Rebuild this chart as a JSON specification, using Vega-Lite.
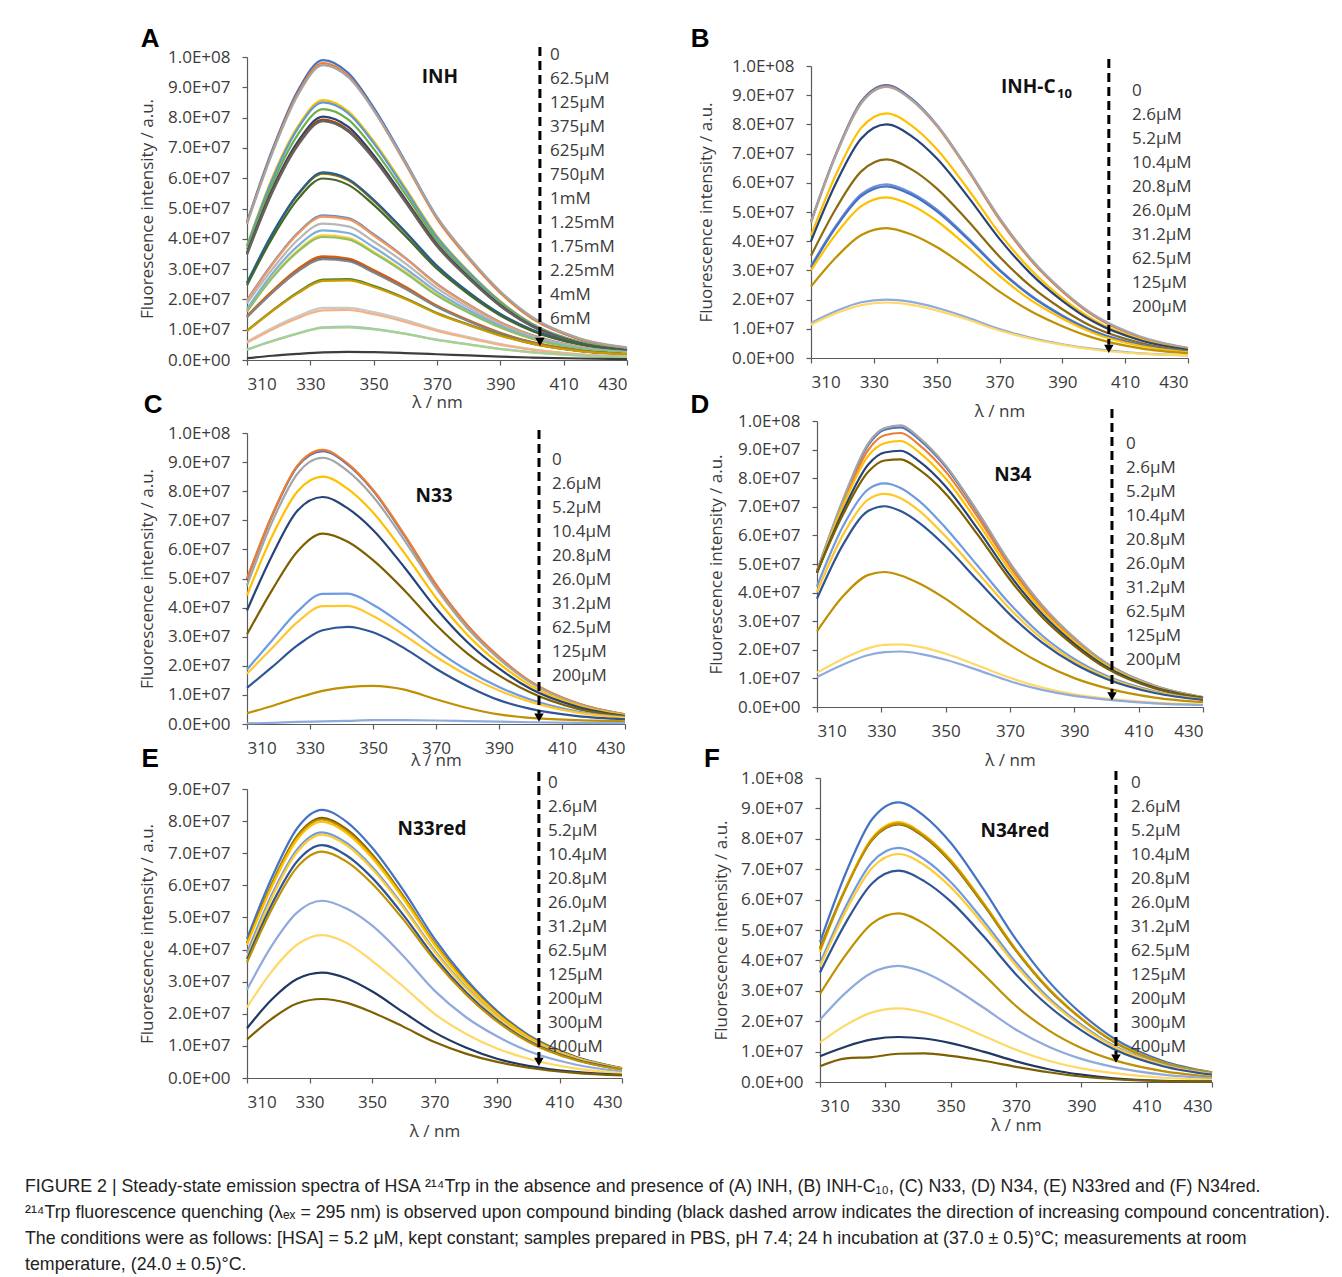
{
"$schema": "https://vega.github.io/schema/vega-lite/v6.json",
"padding": {"left": 25, "top": 25, "right": 5, "bottom": 5},
"background": "white",
"config": {
  "view": {"stroke": null},
  "axis": {"grid": false, "labelOverlap": false, "labelFont": "Open Sans", "labelFontSize": 17, "labelColor": "#3b3b3b", "titleFont": "Open Sans", "titleFontSize": 17, "titleFontWeight": "normal", "titleColor": "#3b3b3b", "domainColor": "#5a5a5a", "tickColor": "#5a5a5a", "tickSize": 5, "domainWidth": 1.2, "tickWidth": 1.2},
  "axisY": {"labelPadding": 12},
  "axisX": {"labelPadding": 11}
},
"datasets": {
"A": [
{"nm":310,"a1":4.56,"a2":4.52,"a3":4.49,"a4":3.78,"a5":3.75,"a6":3.65,"a7":3.54,"a8":3.50,"a9":3.48,"a10":2.53,"a11":2.55,"a12":2.47,"a13":1.98,"a14":1.96,"a15":1.87,"a16":1.62,"a17":1.68,"a18":1.60,"a19":1.43,"a20":1.45,"a21":1.41,"a22":0.97,"a23":0.95,"a24":0.60,"a25":0.57,"a26":0.35,"a27":0.34,"a28":0.06},
{"nm":318,"a1":6.94,"a2":6.87,"a3":6.83,"a4":6.02,"a5":5.96,"a6":5.81,"a7":5.64,"a8":5.57,"a9":5.53,"a10":4.14,"a11":4.17,"a12":4.03,"a13":3.18,"a14":3.15,"a15":3.00,"a16":2.74,"a17":2.85,"a18":2.71,"a19":2.24,"a20":2.28,"a21":2.22,"a22":1.63,"a23":1.61,"a24":1.06,"a25":1.01,"a26":0.63,"a27":0.62,"a28":0.14},
{"nm":326,"a1":8.88,"a2":8.79,"a3":8.73,"a4":7.70,"a5":7.63,"a6":7.43,"a7":7.20,"a8":7.12,"a9":7.07,"a10":5.44,"a11":5.47,"a12":5.30,"a13":4.19,"a14":4.16,"a15":3.96,"a16":3.61,"a17":3.76,"a18":3.57,"a19":2.96,"a20":3.00,"a21":2.92,"a22":2.23,"a23":2.20,"a24":1.44,"a25":1.38,"a26":0.88,"a27":0.87,"a28":0.20},
{"nm":334,"a1":9.90,"a2":9.80,"a3":9.73,"a4":8.58,"a5":8.50,"a6":8.28,"a7":8.03,"a8":7.93,"a9":7.88,"a10":6.15,"a11":6.19,"a12":5.99,"a13":4.77,"a14":4.73,"a15":4.50,"a16":4.11,"a17":4.28,"a18":4.06,"a19":3.37,"a20":3.42,"a21":3.33,"a22":2.65,"a23":2.61,"a24":1.72,"a25":1.64,"a26":1.08,"a27":1.06,"a28":0.25},
{"nm":342,"a1":9.47,"a2":9.38,"a3":9.33,"a4":8.21,"a5":8.14,"a6":7.93,"a7":7.69,"a8":7.59,"a9":7.54,"a10":5.93,"a11":5.97,"a12":5.78,"a13":4.68,"a14":4.64,"a15":4.41,"a16":4.03,"a17":4.19,"a18":3.98,"a19":3.30,"a20":3.35,"a21":3.26,"a22":2.67,"a23":2.63,"a24":1.72,"a25":1.65,"a26":1.10,"a27":1.08,"a28":0.27},
{"nm":350,"a1":8.33,"a2":8.25,"a3":8.25,"a4":7.22,"a5":7.16,"a6":6.97,"a7":6.76,"a8":6.68,"a9":6.64,"a10":5.25,"a11":5.29,"a12":5.12,"a13":4.15,"a14":4.11,"a15":3.91,"a16":3.57,"a17":3.72,"a18":3.53,"a19":2.92,"a20":2.97,"a21":2.89,"a22":2.45,"a23":2.41,"a24":1.58,"a25":1.51,"a26":1.03,"a27":1.01,"a28":0.26},
{"nm":360,"a1":6.55,"a2":6.48,"a3":6.52,"a4":5.68,"a5":5.62,"a6":5.48,"a7":5.31,"a8":5.25,"a9":5.21,"a10":4.20,"a11":4.23,"a12":4.09,"a13":3.37,"a14":3.35,"a15":3.19,"a16":2.91,"a17":3.02,"a18":2.87,"a19":2.38,"a20":2.42,"a21":2.35,"a22":2.04,"a23":2.01,"a24":1.32,"a25":1.26,"a26":0.87,"a27":0.86,"a28":0.23},
{"nm":370,"a1":4.71,"a2":4.66,"a3":4.72,"a4":4.09,"a5":4.05,"a6":3.94,"a7":3.82,"a8":3.78,"a9":3.75,"a10":3.09,"a11":3.11,"a12":3.01,"a13":2.51,"a14":2.49,"a15":2.37,"a16":2.16,"a17":2.25,"a18":2.13,"a19":1.77,"a20":1.79,"a21":1.75,"a22":1.55,"a23":1.53,"a24":1.00,"a25":0.96,"a26":0.67,"a27":0.66,"a28":0.19},
{"nm":380,"a1":3.37,"a2":3.34,"a3":3.40,"a4":2.92,"a5":2.90,"a6":2.82,"a7":2.74,"a8":2.70,"a9":2.69,"a10":2.22,"a11":2.24,"a12":2.17,"a13":1.83,"a14":1.82,"a15":1.73,"a16":1.58,"a17":1.64,"a18":1.56,"a19":1.29,"a20":1.31,"a21":1.28,"a22":1.17,"a23":1.15,"a24":0.76,"a25":0.72,"a26":0.52,"a27":0.51,"a28":0.15},
{"nm":390,"a1":2.23,"a2":2.21,"a3":2.27,"a4":1.94,"a5":1.92,"a6":1.87,"a7":1.81,"a8":1.79,"a9":1.78,"a10":1.51,"a11":1.52,"a12":1.47,"a13":1.25,"a14":1.24,"a15":1.18,"a16":1.08,"a17":1.12,"a18":1.07,"a19":0.88,"a20":0.90,"a21":0.87,"a22":0.82,"a23":0.80,"a24":0.53,"a25":0.50,"a26":0.37,"a27":0.36,"a28":0.11},
{"nm":400,"a1":1.39,"a2":1.37,"a3":1.42,"a4":1.20,"a5":1.19,"a6":1.16,"a7":1.13,"a8":1.11,"a9":1.11,"a10":0.99,"a11":1.00,"a12":0.96,"a13":0.82,"a14":0.81,"a15":0.77,"a16":0.71,"a17":0.73,"a18":0.70,"a19":0.58,"a20":0.59,"a21":0.57,"a22":0.54,"a23":0.54,"a24":0.35,"a25":0.34,"a26":0.26,"a27":0.25,"a28":0.08},
{"nm":415,"a1":0.69,"a2":0.69,"a3":0.72,"a4":0.60,"a5":0.60,"a6":0.58,"a7":0.56,"a8":0.56,"a9":0.55,"a10":0.53,"a11":0.53,"a12":0.51,"a13":0.43,"a14":0.43,"a15":0.41,"a16":0.37,"a17":0.39,"a18":0.37,"a19":0.31,"a20":0.31,"a21":0.30,"a22":0.30,"a23":0.29,"a24":0.19,"a25":0.18,"a26":0.15,"a27":0.14,"a28":0.05},
{"nm":430,"a1":0.40,"a2":0.39,"a3":0.42,"a4":0.34,"a5":0.34,"a6":0.33,"a7":0.32,"a8":0.32,"a9":0.32,"a10":0.31,"a11":0.31,"a12":0.30,"a13":0.27,"a14":0.26,"a15":0.25,"a16":0.23,"a17":0.24,"a18":0.23,"a19":0.19,"a20":0.19,"a21":0.18,"a22":0.19,"a23":0.19,"a24":0.12,"a25":0.12,"a26":0.09,"a27":0.09,"a28":0.03}
],
"B": [
{"nm":310,"b1":4.68,"b2":4.65,"b3":4.64,"b4":4.19,"b5":4.00,"b6":3.50,"b7":3.15,"b8":3.10,"b9":3.00,"b10":2.45,"b11":1.20,"b12":1.14},
{"nm":318,"b1":7.01,"b2":6.98,"b3":6.96,"b4":6.29,"b5":6.00,"b6":5.13,"b7":4.54,"b8":4.49,"b9":4.25,"b10":3.45,"b11":1.61,"b12":1.53},
{"nm":326,"b1":8.79,"b2":8.74,"b3":8.72,"b4":7.88,"b5":7.52,"b6":6.39,"b7":5.61,"b8":5.54,"b9":5.20,"b10":4.21,"b11":1.91,"b12":1.81},
{"nm":334,"b1":9.35,"b2":9.30,"b3":9.28,"b4":8.38,"b5":8.00,"b6":6.80,"b7":5.95,"b8":5.88,"b9":5.50,"b10":4.45,"b11":2.00,"b12":1.90},
{"nm":342,"b1":8.88,"b2":8.84,"b3":8.84,"b4":7.96,"b5":7.60,"b6":6.46,"b7":5.65,"b8":5.59,"b9":5.23,"b10":4.23,"b11":1.92,"b12":1.82},
{"nm":350,"b1":7.99,"b2":7.95,"b3":7.98,"b4":7.16,"b5":6.84,"b6":5.81,"b7":5.09,"b8":5.03,"b9":4.70,"b10":3.80,"b11":1.72,"b12":1.63},
{"nm":360,"b1":6.45,"b2":6.42,"b3":6.46,"b4":5.78,"b5":5.52,"b6":4.69,"b7":4.11,"b8":4.06,"b9":3.80,"b10":3.07,"b11":1.38,"b12":1.31},
{"nm":370,"b1":4.77,"b2":4.74,"b3":4.80,"b4":4.27,"b5":4.08,"b6":3.47,"b7":3.03,"b8":3.00,"b9":2.81,"b10":2.27,"b11":0.99,"b12":0.94},
{"nm":380,"b1":3.37,"b2":3.35,"b3":3.40,"b4":3.02,"b5":2.88,"b6":2.45,"b7":2.14,"b8":2.12,"b9":1.98,"b10":1.60,"b11":0.69,"b12":0.66},
{"nm":390,"b1":2.29,"b2":2.28,"b3":2.32,"b4":2.05,"b5":1.96,"b6":1.67,"b7":1.46,"b8":1.44,"b9":1.35,"b10":1.09,"b11":0.47,"b12":0.45},
{"nm":400,"b1":1.45,"b2":1.44,"b3":1.48,"b4":1.30,"b5":1.24,"b6":1.05,"b7":0.92,"b8":0.91,"b9":0.85,"b10":0.69,"b11":0.31,"b12":0.29},
{"nm":415,"b1":0.70,"b2":0.70,"b3":0.73,"b4":0.63,"b5":0.60,"b6":0.51,"b7":0.45,"b8":0.44,"b9":0.41,"b10":0.33,"b11":0.16,"b12":0.15},
{"nm":430,"b1":0.33,"b2":0.33,"b3":0.35,"b4":0.29,"b5":0.28,"b6":0.24,"b7":0.21,"b8":0.21,"b9":0.19,"b10":0.16,"b11":0.09,"b12":0.09}
],
"C": [
{"nm":310,"c1":4.97,"c2":5.00,"c3":4.76,"c4":4.42,"c5":3.90,"c6":3.08,"c7":1.87,"c8":1.73,"c9":1.24,"c10":0.37,"c11":0.02},
{"nm":318,"c1":7.16,"c2":7.19,"c3":6.95,"c4":6.46,"c5":5.80,"c6":4.61,"c7":2.88,"c8":2.61,"c9":1.96,"c10":0.62,"c11":0.04},
{"nm":326,"c1":8.85,"c2":8.88,"c3":8.60,"c4":7.99,"c5":7.33,"c6":5.93,"c7":3.86,"c8":3.50,"c9":2.70,"c10":0.90,"c11":0.07},
{"nm":334,"c1":9.38,"c2":9.42,"c3":9.15,"c4":8.50,"c5":7.80,"c6":6.54,"c7":4.47,"c8":4.05,"c9":3.22,"c10":1.14,"c11":0.09},
{"nm":342,"c1":8.91,"c2":8.95,"c3":8.69,"c4":8.08,"c5":7.41,"c6":6.26,"c7":4.48,"c8":4.06,"c9":3.34,"c10":1.27,"c11":0.11},
{"nm":350,"c1":8.02,"c2":8.05,"c3":7.82,"c4":7.27,"c5":6.67,"c6":5.63,"c7":4.10,"c8":3.71,"c9":3.15,"c10":1.31,"c11":0.13},
{"nm":360,"c1":6.47,"c2":6.50,"c3":6.31,"c4":5.87,"c5":5.38,"c6":4.59,"c7":3.37,"c8":3.05,"c9":2.60,"c10":1.18,"c11":0.13},
{"nm":370,"c1":4.78,"c2":4.80,"c3":4.67,"c4":4.34,"c5":3.98,"c6":3.41,"c7":2.55,"c8":2.31,"c9":1.90,"c10":0.85,"c11":0.12},
{"nm":380,"c1":3.38,"c2":3.39,"c3":3.29,"c4":3.06,"c5":2.81,"c6":2.42,"c7":1.84,"c8":1.67,"c9":1.30,"c10":0.55,"c11":0.10},
{"nm":390,"c1":2.30,"c2":2.31,"c3":2.24,"c4":2.08,"c5":1.91,"c6":1.67,"c7":1.27,"c8":1.15,"c9":0.82,"c10":0.33,"c11":0.08},
{"nm":400,"c1":1.45,"c2":1.46,"c3":1.42,"c4":1.32,"c5":1.21,"c6":1.08,"c7":0.84,"c8":0.76,"c9":0.52,"c10":0.21,"c11":0.06},
{"nm":415,"c1":0.70,"c2":0.71,"c3":0.69,"c4":0.64,"c5":0.59,"c6":0.52,"c7":0.43,"c8":0.39,"c9":0.27,"c10":0.13,"c11":0.04},
{"nm":430,"c1":0.33,"c2":0.33,"c3":0.32,"c4":0.30,"c5":0.27,"c6":0.26,"c7":0.23,"c8":0.21,"c9":0.16,"c10":0.09,"c11":0.03}
],
"D": [
{"nm":310,"d1":4.75,"d2":4.71,"d3":4.74,"d4":4.68,"d5":4.69,"d6":4.71,"d7":4.22,"d8":4.02,"d9":3.79,"d10":2.64,"d11":1.20,"d12":1.05},
{"nm":318,"d1":7.19,"d2":7.07,"d3":7.23,"d4":7.01,"d5":6.83,"d6":6.71,"d7":6.30,"d8":6.00,"d9":5.66,"d10":3.86,"d11":1.68,"d12":1.48},
{"nm":326,"d1":9.17,"d2":9.00,"d3":9.23,"d4":8.79,"d5":8.49,"d6":8.23,"d7":7.62,"d8":7.26,"d9":6.86,"d10":4.62,"d11":2.06,"d12":1.82},
{"nm":331,"d1":9.70,"d2":9.50,"d3":9.75,"d4":9.22,"d5":8.90,"d6":8.62,"d7":7.82,"d8":7.45,"d9":7.02,"d10":4.72,"d11":2.17,"d12":1.92},
{"nm":336,"d1":9.78,"d2":9.58,"d3":9.85,"d4":9.30,"d5":8.96,"d6":8.66,"d7":7.66,"d8":7.30,"d9":6.85,"d10":4.60,"d11":2.19,"d12":1.94},
{"nm":342,"d1":9.33,"d2":9.14,"d3":9.39,"d4":8.88,"d5":8.57,"d6":8.28,"d7":7.18,"d8":6.84,"d9":6.42,"d10":4.31,"d11":2.10,"d12":1.86},
{"nm":350,"d1":8.40,"d2":8.23,"d3":8.45,"d4":7.99,"d5":7.71,"d6":7.46,"d7":6.26,"d8":5.96,"d9":5.62,"d10":3.78,"d11":1.86,"d12":1.65},
{"nm":360,"d1":6.78,"d2":6.64,"d3":6.82,"d4":6.45,"d5":6.22,"d6":6.02,"d7":4.93,"d8":4.69,"d9":4.42,"d10":2.97,"d11":1.45,"d12":1.29},
{"nm":370,"d1":5.01,"d2":4.91,"d3":5.04,"d4":4.77,"d5":4.60,"d6":4.45,"d7":3.60,"d8":3.43,"d9":3.23,"d10":2.17,"d11":1.02,"d12":0.90},
{"nm":380,"d1":3.54,"d2":3.46,"d3":3.56,"d4":3.37,"d5":3.25,"d6":3.14,"d7":2.50,"d8":2.38,"d9":2.25,"d10":1.51,"d11":0.68,"d12":0.60},
{"nm":390,"d1":2.41,"d2":2.36,"d3":2.42,"d4":2.29,"d5":2.21,"d6":2.14,"d7":1.68,"d8":1.60,"d9":1.51,"d10":1.01,"d11":0.44,"d12":0.39},
{"nm":400,"d1":1.52,"d2":1.49,"d3":1.53,"d4":1.45,"d5":1.40,"d6":1.35,"d7":1.09,"d8":1.04,"d9":0.98,"d10":0.66,"d11":0.29,"d12":0.26},
{"nm":415,"d1":0.74,"d2":0.72,"d3":0.74,"d4":0.70,"d5":0.68,"d6":0.65,"d7":0.55,"d8":0.52,"d9":0.49,"d10":0.33,"d11":0.15,"d12":0.13},
{"nm":430,"d1":0.34,"d2":0.34,"d3":0.35,"d4":0.33,"d5":0.32,"d6":0.31,"d7":0.27,"d8":0.26,"d9":0.25,"d10":0.17,"d11":0.08,"d12":0.07}
],
"E": [
{"nm":310,"e1":4.34,"e2":4.21,"e3":4.19,"e4":4.15,"e5":3.90,"e6":3.75,"e7":3.70,"e8":3.60,"e9":2.75,"e10":2.20,"e11":1.55,"e12":1.20},
{"nm":318,"e1":6.25,"e2":6.06,"e3":6.02,"e4":5.97,"e5":5.72,"e6":5.62,"e7":5.42,"e8":5.27,"e9":4.13,"e10":3.33,"e11":2.45,"e12":1.85},
{"nm":326,"e1":7.77,"e2":7.53,"e3":7.49,"e4":7.42,"e5":7.11,"e6":7.03,"e7":6.74,"e8":6.56,"e9":5.15,"e10":4.15,"e11":3.08,"e12":2.32},
{"nm":334,"e1":8.35,"e2":8.10,"e3":8.05,"e4":7.98,"e5":7.65,"e6":7.58,"e7":7.25,"e8":7.05,"e9":5.52,"e10":4.45,"e11":3.28,"e12":2.46},
{"nm":342,"e1":7.97,"e2":7.74,"e3":7.69,"e4":7.62,"e5":7.31,"e6":7.24,"e7":6.92,"e8":6.73,"e9":5.27,"e10":4.20,"e11":3.10,"e12":2.34},
{"nm":350,"e1":7.18,"e2":6.97,"e3":6.92,"e4":6.86,"e5":6.58,"e6":6.52,"e7":6.24,"e8":6.06,"e9":4.75,"e10":3.65,"e11":2.70,"e12":2.05},
{"nm":360,"e1":5.85,"e2":5.67,"e3":5.64,"e4":5.59,"e5":5.36,"e6":5.31,"e7":5.08,"e8":4.94,"e9":3.80,"e10":2.85,"e11":2.05,"e12":1.60},
{"nm":370,"e1":4.34,"e2":4.21,"e3":4.19,"e4":4.15,"e5":3.98,"e6":3.94,"e7":3.77,"e8":3.67,"e9":2.72,"e10":2.00,"e11":1.42,"e12":1.12},
{"nm":380,"e1":3.09,"e2":3.00,"e3":2.98,"e4":2.95,"e5":2.83,"e6":2.80,"e7":2.68,"e8":2.61,"e9":1.90,"e10":1.38,"e11":0.95,"e12":0.76},
{"nm":390,"e1":2.09,"e2":2.03,"e3":2.01,"e4":2.00,"e5":1.91,"e6":1.90,"e7":1.81,"e8":1.76,"e9":1.30,"e10":0.92,"e11":0.60,"e12":0.50},
{"nm":400,"e1":1.34,"e2":1.30,"e3":1.29,"e4":1.28,"e5":1.22,"e6":1.21,"e7":1.16,"e8":1.13,"e9":0.84,"e10":0.60,"e11":0.38,"e12":0.32},
{"nm":415,"e1":0.67,"e2":0.65,"e3":0.64,"e4":0.64,"e5":0.61,"e6":0.61,"e7":0.58,"e8":0.56,"e9":0.42,"e10":0.30,"e11":0.19,"e12":0.16},
{"nm":430,"e1":0.31,"e2":0.30,"e3":0.30,"e4":0.30,"e5":0.28,"e6":0.28,"e7":0.27,"e8":0.26,"e9":0.20,"e10":0.15,"e11":0.10,"e12":0.08}
],
"F": [
{"nm":310,"f1":4.60,"f2":4.40,"f3":4.28,"f4":4.35,"f5":3.90,"f6":3.80,"f7":3.60,"f8":2.90,"f9":2.05,"f10":1.30,"f11":0.85,"f12":0.52},
{"nm":318,"f1":6.90,"f2":6.41,"f3":6.41,"f4":6.38,"f5":5.80,"f6":5.64,"f7":5.26,"f8":4.20,"f9":2.95,"f10":1.88,"f11":1.17,"f12":0.78},
{"nm":326,"f1":8.65,"f2":7.97,"f3":8.04,"f4":7.99,"f5":7.24,"f6":7.05,"f7":6.54,"f8":5.22,"f9":3.60,"f10":2.29,"f11":1.40,"f12":0.82},
{"nm":334,"f1":9.20,"f2":8.47,"f3":8.55,"f4":8.50,"f5":7.70,"f6":7.50,"f7":6.95,"f8":5.55,"f9":3.82,"f10":2.42,"f11":1.48,"f12":0.93},
{"nm":342,"f1":8.74,"f2":8.05,"f3":8.12,"f4":8.08,"f5":7.32,"f6":7.13,"f7":6.60,"f8":5.20,"f9":3.60,"f10":2.28,"f11":1.43,"f12":0.94},
{"nm":350,"f1":7.87,"f2":7.24,"f3":7.31,"f4":7.27,"f5":6.58,"f6":6.41,"f7":5.94,"f8":4.55,"f9":3.15,"f10":1.98,"f11":1.28,"f12":0.86},
{"nm":360,"f1":6.35,"f2":5.84,"f3":5.90,"f4":5.87,"f5":5.31,"f6":5.18,"f7":4.80,"f8":3.55,"f9":2.45,"f10":1.52,"f11":1.00,"f12":0.70},
{"nm":370,"f1":4.69,"f2":4.32,"f3":4.36,"f4":4.34,"f5":3.93,"f6":3.83,"f7":3.54,"f8":2.50,"f9":1.72,"f10":1.06,"f11":0.68,"f12":0.50},
{"nm":380,"f1":3.31,"f2":3.05,"f3":3.08,"f4":3.06,"f5":2.77,"f6":2.70,"f7":2.50,"f8":1.70,"f9":1.16,"f10":0.70,"f11":0.42,"f12":0.32},
{"nm":390,"f1":2.25,"f2":2.08,"f3":2.09,"f4":2.08,"f5":1.89,"f6":1.84,"f7":1.70,"f8":1.12,"f9":0.76,"f10":0.45,"f11":0.24,"f12":0.18},
{"nm":400,"f1":1.43,"f2":1.31,"f3":1.33,"f4":1.32,"f5":1.19,"f6":1.16,"f7":1.08,"f8":0.72,"f9":0.49,"f10":0.29,"f11":0.12,"f12":0.09},
{"nm":415,"f1":0.69,"f2":0.64,"f3":0.64,"f4":0.64,"f5":0.58,"f6":0.56,"f7":0.52,"f8":0.36,"f9":0.24,"f10":0.14,"f11":0.04,"f12":0.03},
{"nm":430,"f1":0.32,"f2":0.30,"f3":0.30,"f4":0.30,"f5":0.27,"f6":0.26,"f7":0.24,"f8":0.17,"f9":0.12,"f10":0.07,"f11":0.02,"f12":0.01}
],
"arr": [
{"p":"A","nm":402.5,"I":10.33,"I2":0.75,"Ih":0.6},
{"p":"B","nm":404.8,"I":10.24,"I2":0.45,"Ih":0.31},
{"p":"C","nm":402.7,"I":10.1,"I2":0.35,"Ih":0.22},
{"p":"D","nm":401.7,"I":10.42,"I2":0.5,"Ih":0.37},
{"p":"E","nm":403.4,"I":9.53,"I2":0.62,"Ih":0.5},
{"p":"F","nm":400.6,"I":10.23,"I2":0.9,"Ih":0.77}
],
"ann": [
{"p":"A","k":"lab","nm":405.7,"I":10.07,"t":"0"},
{"p":"A","k":"lab","nm":405.7,"I":9.27,"t":"62.5µM"},
{"p":"A","k":"lab","nm":405.7,"I":8.48,"t":"125µM"},
{"p":"A","k":"lab","nm":405.7,"I":7.69,"t":"375µM"},
{"p":"A","k":"lab","nm":405.7,"I":6.90,"t":"625µM"},
{"p":"A","k":"lab","nm":405.7,"I":6.11,"t":"750µM"},
{"p":"A","k":"lab","nm":405.7,"I":5.31,"t":"1mM"},
{"p":"A","k":"lab","nm":405.7,"I":4.52,"t":"1.25mM"},
{"p":"A","k":"lab","nm":405.7,"I":3.73,"t":"1.75mM"},
{"p":"A","k":"lab","nm":405.7,"I":2.94,"t":"2.25mM"},
{"p":"A","k":"lab","nm":405.7,"I":2.15,"t":"4mM"},
{"p":"A","k":"lab","nm":405.7,"I":1.35,"t":"6mM"},
{"p":"A","k":"ttl","nm":370.9,"I":9.34,"t":"INH"},
{"p":"A","k":"let","nm":279.4,"I":10.6,"t":"A"},
{"p":"B","k":"lab","nm":412.2,"I":9.14,"t":"0"},
{"p":"B","k":"lab","nm":412.2,"I":8.32,"t":"2.6µM"},
{"p":"B","k":"lab","nm":412.2,"I":7.50,"t":"5.2µM"},
{"p":"B","k":"lab","nm":412.2,"I":6.68,"t":"10.4µM"},
{"p":"B","k":"lab","nm":412.2,"I":5.86,"t":"20.8µM"},
{"p":"B","k":"lab","nm":412.2,"I":5.03,"t":"26.0µM"},
{"p":"B","k":"lab","nm":412.2,"I":4.21,"t":"31.2µM"},
{"p":"B","k":"lab","nm":412.2,"I":3.39,"t":"62.5µM"},
{"p":"B","k":"lab","nm":412.2,"I":2.57,"t":"125µM"},
{"p":"B","k":"lab","nm":412.2,"I":1.75,"t":"200µM"},
{"p":"B","k":"ttlL","nm":370.5,"I":9.28,"t":"INH-C"},
{"p":"B","k":"sub","nm":388.3,"I":9.04,"t":"10"},
{"p":"B","k":"let","nm":274.7,"I":10.92,"t":"B"},
{"p":"C","k":"lab","nm":406.8,"I":9.07,"t":"0"},
{"p":"C","k":"lab","nm":406.8,"I":8.25,"t":"2.6µM"},
{"p":"C","k":"lab","nm":406.8,"I":7.42,"t":"5.2µM"},
{"p":"C","k":"lab","nm":406.8,"I":6.60,"t":"10.4µM"},
{"p":"C","k":"lab","nm":406.8,"I":5.77,"t":"20.8µM"},
{"p":"C","k":"lab","nm":406.8,"I":4.95,"t":"26.0µM"},
{"p":"C","k":"lab","nm":406.8,"I":4.12,"t":"31.2µM"},
{"p":"C","k":"lab","nm":406.8,"I":3.30,"t":"62.5µM"},
{"p":"C","k":"lab","nm":406.8,"I":2.47,"t":"125µM"},
{"p":"C","k":"lab","nm":406.8,"I":1.65,"t":"200µM"},
{"p":"C","k":"ttl","nm":369.4,"I":7.84,"t":"N33"},
{"p":"C","k":"let","nm":280.2,"I":10.96,"t":"C"},
{"p":"D","k":"lab","nm":406.1,"I":9.20,"t":"0"},
{"p":"D","k":"lab","nm":406.1,"I":8.36,"t":"2.6µM"},
{"p":"D","k":"lab","nm":406.1,"I":7.52,"t":"5.2µM"},
{"p":"D","k":"lab","nm":406.1,"I":6.68,"t":"10.4µM"},
{"p":"D","k":"lab","nm":406.1,"I":5.84,"t":"20.8µM"},
{"p":"D","k":"lab","nm":406.1,"I":5.00,"t":"26.0µM"},
{"p":"D","k":"lab","nm":406.1,"I":4.16,"t":"31.2µM"},
{"p":"D","k":"lab","nm":406.1,"I":3.32,"t":"62.5µM"},
{"p":"D","k":"lab","nm":406.1,"I":2.48,"t":"125µM"},
{"p":"D","k":"lab","nm":406.1,"I":1.64,"t":"200µM"},
{"p":"D","k":"ttl","nm":370.9,"I":8.11,"t":"N34"},
{"p":"D","k":"let","nm":273.6,"I":10.56,"t":"D"},
{"p":"E","k":"lab","nm":406.3,"I":9.19,"t":"0"},
{"p":"E","k":"lab","nm":406.3,"I":8.44,"t":"2.6µM"},
{"p":"E","k":"lab","nm":406.3,"I":7.69,"t":"5.2µM"},
{"p":"E","k":"lab","nm":406.3,"I":6.95,"t":"10.4µM"},
{"p":"E","k":"lab","nm":406.3,"I":6.20,"t":"20.8µM"},
{"p":"E","k":"lab","nm":406.3,"I":5.45,"t":"26.0µM"},
{"p":"E","k":"lab","nm":406.3,"I":4.70,"t":"31.2µM"},
{"p":"E","k":"lab","nm":406.3,"I":3.96,"t":"62.5µM"},
{"p":"E","k":"lab","nm":406.3,"I":3.21,"t":"125µM"},
{"p":"E","k":"lab","nm":406.3,"I":2.46,"t":"200µM"},
{"p":"E","k":"lab","nm":406.3,"I":1.71,"t":"300µM"},
{"p":"E","k":"lab","nm":406.3,"I":0.97,"t":"400µM"},
{"p":"E","k":"ttl","nm":369.2,"I":7.76,"t":"N33red"},
{"p":"E","k":"let","nm":279.0,"I":9.94,"t":"E"},
{"p":"F","k":"lab","nm":405.2,"I":9.84,"t":"0"},
{"p":"F","k":"lab","nm":405.2,"I":9.05,"t":"2.6µM"},
{"p":"F","k":"lab","nm":405.2,"I":8.26,"t":"5.2µM"},
{"p":"F","k":"lab","nm":405.2,"I":7.47,"t":"10.4µM"},
{"p":"F","k":"lab","nm":405.2,"I":6.68,"t":"20.8µM"},
{"p":"F","k":"lab","nm":405.2,"I":5.89,"t":"26.0µM"},
{"p":"F","k":"lab","nm":405.2,"I":5.10,"t":"31.2µM"},
{"p":"F","k":"lab","nm":405.2,"I":4.31,"t":"62.5µM"},
{"p":"F","k":"lab","nm":405.2,"I":3.52,"t":"125µM"},
{"p":"F","k":"lab","nm":405.2,"I":2.73,"t":"200µM"},
{"p":"F","k":"lab","nm":405.2,"I":1.94,"t":"300µM"},
{"p":"F","k":"lab","nm":405.2,"I":1.15,"t":"400µM"},
{"p":"F","k":"ttl","nm":369.7,"I":8.26,"t":"N34red"},
{"p":"F","k":"let","nm":276.9,"I":10.63,"t":"F"}
]
},
"title": {
  "text": [
    "FIGURE 2 | Steady-state emission spectra of HSA ²¹⁴Trp in the absence and presence of (A) INH, (B) INH-C₁₀, (C) N33, (D) N34, (E) N33red and (F) N34red.",
    "²¹⁴Trp fluorescence quenching (λₑₓ = 295 nm) is observed upon compound binding (black dashed arrow indicates the direction of increasing compound concentration).",
    "The conditions were as follows: [HSA] = 5.2 μM, kept constant; samples prepared in PBS, pH 7.4; 24 h incubation at (37.0 ± 0.5)°C; measurements at room",
    "temperature, (24.0 ± 0.5)°C."
  ],
  "orient": "bottom", "anchor": "start", "frame": "group", "dx": -222, "offset": 39,
  "font": "Liberation Sans", "fontSize": 17.8, "fontWeight": "normal", "color": "#222222", "lineHeight": 26
},
"columns": 2,
"bounds": "flush",
"spacing": {"row": 54, "column": 184},
"resolve": {"scale": {"x": "independent", "y": "independent", "color": "independent"}},
"concat": [
{
 "width": 380, "height": 303,
 "resolve": {"axis": {"x": "independent", "y": "independent"}},
 "layer": [
  {"data": {"name": "A"},
   "transform": [{"fold": ["a1","a2","a3","a4","a5","a6","a7","a8","a9","a10","a11","a12","a13","a14","a15","a16","a17","a18","a19","a20","a21","a22","a23","a24","a25","a26","a27","a28"], "as": ["curve", "I"]}],
   "mark": {"type": "line", "interpolate": "monotone", "strokeWidth": 2.2},
   "encoding": {
    "x": {"field": "nm", "type": "quantitative", "scale": {"domain": [310, 430], "nice": false}, "axis": {"labelOverlap": false, "values": [310,330,350,370,390,410,430], "title": "λ / nm", "titlePadding": 2}},
    "y": {"field": "I", "type": "quantitative", "scale": {"domain": [0, 10], "nice": false}, "axis": {"labelOverlap": false, "values": [0,1,2,3,4,5,6,7,8,9,10], "labelExpr": "datum.value == 0 ? '0.0E+00' : (datum.value >= 10 ? '1.0E+08' : format(datum.value, '.1f') + 'E+07')", "title": "Fluorescence intensity / a.u.", "titlePadding": 11}},
    "color": {"field": "curve", "type": "nominal", "scale": {"domain": ["a1","a2","a3","a4","a5","a6","a7","a8","a9","a10","a11","a12","a13","a14","a15","a16","a17","a18","a19","a20","a21","a22","a23","a24","a25","a26","a27","a28"], "range": ["#4472C4","#ED7D31","#A5A5A5","#FFC000","#5B9BD5","#70AD47","#264478","#9E480E","#636363","#997300","#255E91","#43682B","#698ED0","#F1975A","#B7B7B7","#FFCD33","#7CAFDD","#8CC168","#335AA1","#D26012","#848484","#548235","#CC9A00","#C9C9C9","#F4B183","#9DC3E6","#A9D18E","#3D3D3D"]}, "legend": null}
   }},
  {"data": {"name": "arr"}, "transform": [{"filter": "datum.p == 'A'"}], "mark": {"type": "rule", "strokeDash": [9, 5], "strokeWidth": 3, "color": "#000000"}, "encoding": {"x": {"field": "nm", "type": "quantitative", "axis": null}, "y": {"field": "I", "type": "quantitative", "axis": null}, "y2": {"field": "I2"}}},
  {"data": {"name": "arr"}, "transform": [{"filter": "datum.p == 'A'"}], "mark": {"type": "point", "shape": "triangle-down", "filled": true, "color": "#000000", "size": 90, "opacity": 1}, "encoding": {"x": {"field": "nm", "type": "quantitative", "axis": null}, "y": {"field": "Ih", "type": "quantitative", "axis": null}}},
  {"data": {"name": "ann"}, "transform": [{"filter": "datum.p == 'A' && datum.k == 'lab'"}], "mark": {"type": "text", "align": "left", "baseline": "middle", "font": "Open Sans", "fontSize": 17, "color": "#3b3b3b"}, "encoding": {"x": {"field": "nm", "type": "quantitative", "axis": null}, "y": {"field": "I", "type": "quantitative", "axis": null}, "text": {"field": "t"}}},
  {"data": {"name": "ann"}, "transform": [{"filter": "datum.p == 'A' && datum.k == 'ttl'"}], "mark": {"type": "text", "align": "center", "baseline": "middle", "font": "Open Sans", "fontSize": 19, "fontWeight": "bold", "color": "#111111"}, "encoding": {"x": {"field": "nm", "type": "quantitative", "axis": null}, "y": {"field": "I", "type": "quantitative", "axis": null}, "text": {"field": "t"}}},
  {"data": {"name": "ann"}, "transform": [{"filter": "datum.p == 'A' && datum.k == 'let'"}], "mark": {"type": "text", "align": "center", "baseline": "middle", "font": "Liberation Sans", "fontSize": 26, "fontWeight": "bold", "color": "#000000"}, "encoding": {"x": {"field": "nm", "type": "quantitative", "axis": null}, "y": {"field": "I", "type": "quantitative", "axis": null}, "text": {"field": "t"}}}
 ]
},
{
 "width": 377, "height": 301,
 "resolve": {"axis": {"x": "independent", "y": "independent"}},
 "layer": [
  {"data": {"name": "B"},
   "transform": [{"fold": ["b1","b2","b3","b4","b5","b6","b7","b8","b9","b10","b11","b12"], "as": ["curve", "I"]}],
   "mark": {"type": "line", "interpolate": "monotone", "strokeWidth": 2.2},
   "encoding": {
    "x": {"field": "nm", "type": "quantitative", "scale": {"domain": [310, 430], "nice": false}, "axis": {"labelOverlap": false, "values": [310,330,350,370,390,410,430], "title": "λ / nm", "titlePadding": 13}},
    "y": {"field": "I", "type": "quantitative", "scale": {"domain": [0, 10], "nice": false, "range": [301, 9]}, "axis": {"labelOverlap": false, "values": [0,1,2,3,4,5,6,7,8,9,10], "labelExpr": "datum.value == 0 ? '0.0E+00' : (datum.value >= 10 ? '1.0E+08' : format(datum.value, '.1f') + 'E+07')", "title": "Fluorescence intensity / a.u.", "titlePadding": 16}},
    "color": {"field": "curve", "type": "nominal", "scale": {"domain": ["b1","b2","b3","b4","b5","b6","b7","b8","b9","b10","b11","b12"], "range": ["#4472C4","#ED7D31","#A5A5A5","#FFC000","#264478","#8B6A10","#6F8FD8","#4472C4","#FFC000","#BF9000","#8FAADC","#FFD966"]}, "legend": null}
   }},
  {"data": {"name": "arr"}, "transform": [{"filter": "datum.p == 'B'"}], "mark": {"type": "rule", "strokeDash": [9, 5], "strokeWidth": 3, "color": "#000000"}, "encoding": {"x": {"field": "nm", "type": "quantitative", "axis": null}, "y": {"field": "I", "type": "quantitative", "axis": null}, "y2": {"field": "I2"}}},
  {"data": {"name": "arr"}, "transform": [{"filter": "datum.p == 'B'"}], "mark": {"type": "point", "shape": "triangle-down", "filled": true, "color": "#000000", "size": 90, "opacity": 1}, "encoding": {"x": {"field": "nm", "type": "quantitative", "axis": null}, "y": {"field": "Ih", "type": "quantitative", "axis": null}}},
  {"data": {"name": "ann"}, "transform": [{"filter": "datum.p == 'B' && datum.k == 'lab'"}], "mark": {"type": "text", "align": "left", "baseline": "middle", "font": "Open Sans", "fontSize": 17, "color": "#3b3b3b"}, "encoding": {"x": {"field": "nm", "type": "quantitative", "axis": null}, "y": {"field": "I", "type": "quantitative", "axis": null}, "text": {"field": "t"}}},
  {"data": {"name": "ann"}, "transform": [{"filter": "datum.p == 'B' && datum.k == 'ttlL'"}], "mark": {"type": "text", "align": "left", "baseline": "middle", "font": "Open Sans", "fontSize": 19, "fontWeight": "bold", "color": "#111111"}, "encoding": {"x": {"field": "nm", "type": "quantitative", "axis": null}, "y": {"field": "I", "type": "quantitative", "axis": null}, "text": {"field": "t"}}},
  {"data": {"name": "ann"}, "transform": [{"filter": "datum.p == 'B' && datum.k == 'sub'"}], "mark": {"type": "text", "align": "left", "baseline": "middle", "font": "Open Sans", "fontSize": 13, "fontWeight": "bold", "color": "#111111"}, "encoding": {"x": {"field": "nm", "type": "quantitative", "axis": null}, "y": {"field": "I", "type": "quantitative", "axis": null}, "text": {"field": "t"}}},
  {"data": {"name": "ann"}, "transform": [{"filter": "datum.p == 'B' && datum.k == 'let'"}], "mark": {"type": "text", "align": "center", "baseline": "middle", "font": "Liberation Sans", "fontSize": 26, "fontWeight": "bold", "color": "#000000"}, "encoding": {"x": {"field": "nm", "type": "quantitative", "axis": null}, "y": {"field": "I", "type": "quantitative", "axis": null}, "text": {"field": "t"}}}
 ]
},
{
 "width": 378, "height": 310,
 "resolve": {"axis": {"x": "independent", "y": "independent"}},
 "layer": [
  {"data": {"name": "C"},
   "transform": [{"fold": ["c1","c2","c3","c4","c5","c6","c7","c8","c9","c10","c11"], "as": ["curve", "I"]}],
   "mark": {"type": "line", "interpolate": "monotone", "strokeWidth": 2.2},
   "encoding": {
    "x": {"field": "nm", "type": "quantitative", "scale": {"domain": [310, 430], "nice": false}, "axis": {"labelOverlap": false, "values": [310,330,350,370,390,410,430], "title": "λ / nm", "titlePadding": -4}},
    "y": {"field": "I", "type": "quantitative", "scale": {"domain": [0, 10], "nice": false, "range": [310, 19]}, "axis": {"labelOverlap": false, "values": [0,1,2,3,4,5,6,7,8,9,10], "labelExpr": "datum.value == 0 ? '0.0E+00' : (datum.value >= 10 ? '1.0E+08' : format(datum.value, '.1f') + 'E+07')", "title": "Fluorescence intensity / a.u.", "titlePadding": 11}},
    "color": {"field": "curve", "type": "nominal", "scale": {"domain": ["c1","c2","c3","c4","c5","c6","c7","c8","c9","c10","c11"], "range": ["#4472C4","#ED7D31","#A5A5A5","#FFC000","#264478","#7F6000","#6F9BE0","#FFC72C","#2F5597","#BF9000","#8FAADC"]}, "legend": null}
   }},
  {"data": {"name": "arr"}, "transform": [{"filter": "datum.p == 'C'"}], "mark": {"type": "rule", "strokeDash": [9, 5], "strokeWidth": 3, "color": "#000000"}, "encoding": {"x": {"field": "nm", "type": "quantitative", "axis": null}, "y": {"field": "I", "type": "quantitative", "axis": null}, "y2": {"field": "I2"}}},
  {"data": {"name": "arr"}, "transform": [{"filter": "datum.p == 'C'"}], "mark": {"type": "point", "shape": "triangle-down", "filled": true, "color": "#000000", "size": 90, "opacity": 1}, "encoding": {"x": {"field": "nm", "type": "quantitative", "axis": null}, "y": {"field": "Ih", "type": "quantitative", "axis": null}}},
  {"data": {"name": "ann"}, "transform": [{"filter": "datum.p == 'C' && datum.k == 'lab'"}], "mark": {"type": "text", "align": "left", "baseline": "middle", "font": "Open Sans", "fontSize": 17, "color": "#3b3b3b"}, "encoding": {"x": {"field": "nm", "type": "quantitative", "axis": null}, "y": {"field": "I", "type": "quantitative", "axis": null}, "text": {"field": "t"}}},
  {"data": {"name": "ann"}, "transform": [{"filter": "datum.p == 'C' && datum.k == 'ttl'"}], "mark": {"type": "text", "align": "center", "baseline": "middle", "font": "Open Sans", "fontSize": 19, "fontWeight": "bold", "color": "#111111"}, "encoding": {"x": {"field": "nm", "type": "quantitative", "axis": null}, "y": {"field": "I", "type": "quantitative", "axis": null}, "text": {"field": "t"}}},
  {"data": {"name": "ann"}, "transform": [{"filter": "datum.p == 'C' && datum.k == 'let'"}], "mark": {"type": "text", "align": "center", "baseline": "middle", "font": "Liberation Sans", "fontSize": 26, "fontWeight": "bold", "color": "#000000"}, "encoding": {"x": {"field": "nm", "type": "quantitative", "axis": null}, "y": {"field": "I", "type": "quantitative", "axis": null}, "text": {"field": "t"}}}
 ]
},
{
 "width": 392, "height": 293,
 "resolve": {"axis": {"x": "independent", "y": "independent"}},
 "layer": [
  {"data": {"name": "D"},
   "transform": [{"fold": ["d1","d2","d3","d4","d5","d6","d7","d8","d9","d10","d11","d12"], "as": ["curve", "I"]}],
   "mark": {"type": "line", "interpolate": "monotone", "strokeWidth": 2.2},
   "encoding": {
    "x": {"field": "nm", "type": "quantitative", "scale": {"domain": [310, 430], "nice": false, "range": [6, 392]}, "axis": {"labelOverlap": false, "values": [310,330,350,370,390,410,430], "title": "λ / nm", "titlePadding": 13}},
    "y": {"field": "I", "type": "quantitative", "scale": {"domain": [0, 10], "nice": false, "range": [293, 7]}, "axis": {"labelOverlap": false, "offset": -6, "values": [0,1,2,3,4,5,6,7,8,9,10], "labelExpr": "datum.value == 0 ? '0.0E+00' : (datum.value >= 10 ? '1.0E+08' : format(datum.value, '.1f') + 'E+07')", "title": "Fluorescence intensity / a.u.", "titlePadding": 12}},
    "color": {"field": "curve", "type": "nominal", "scale": {"domain": ["d1","d2","d3","d4","d5","d6","d7","d8","d9","d10","d11","d12"], "range": ["#4472C4","#ED7D31","#A5A5A5","#FFC000","#264478","#7F6000","#6F9BE0","#FFC72C","#2F5597","#BF9000","#FFD966","#8FAADC"]}, "legend": null}
   }},
  {"data": {"name": "arr"}, "transform": [{"filter": "datum.p == 'D'"}], "mark": {"type": "rule", "strokeDash": [9, 5], "strokeWidth": 3, "color": "#000000"}, "encoding": {"x": {"field": "nm", "type": "quantitative", "axis": null}, "y": {"field": "I", "type": "quantitative", "axis": null}, "y2": {"field": "I2"}}},
  {"data": {"name": "arr"}, "transform": [{"filter": "datum.p == 'D'"}], "mark": {"type": "point", "shape": "triangle-down", "filled": true, "color": "#000000", "size": 90, "opacity": 1}, "encoding": {"x": {"field": "nm", "type": "quantitative", "axis": null}, "y": {"field": "Ih", "type": "quantitative", "axis": null}}},
  {"data": {"name": "ann"}, "transform": [{"filter": "datum.p == 'D' && datum.k == 'lab'"}], "mark": {"type": "text", "align": "left", "baseline": "middle", "font": "Open Sans", "fontSize": 17, "color": "#3b3b3b"}, "encoding": {"x": {"field": "nm", "type": "quantitative", "axis": null}, "y": {"field": "I", "type": "quantitative", "axis": null}, "text": {"field": "t"}}},
  {"data": {"name": "ann"}, "transform": [{"filter": "datum.p == 'D' && datum.k == 'ttl'"}], "mark": {"type": "text", "align": "center", "baseline": "middle", "font": "Open Sans", "fontSize": 19, "fontWeight": "bold", "color": "#111111"}, "encoding": {"x": {"field": "nm", "type": "quantitative", "axis": null}, "y": {"field": "I", "type": "quantitative", "axis": null}, "text": {"field": "t"}}},
  {"data": {"name": "ann"}, "transform": [{"filter": "datum.p == 'D' && datum.k == 'let'"}], "mark": {"type": "text", "align": "center", "baseline": "middle", "font": "Liberation Sans", "fontSize": 26, "fontWeight": "bold", "color": "#000000"}, "encoding": {"x": {"field": "nm", "type": "quantitative", "axis": null}, "y": {"field": "I", "type": "quantitative", "axis": null}, "text": {"field": "t"}}}
 ]
},
{
 "width": 375, "height": 300,
 "resolve": {"axis": {"x": "independent", "y": "independent"}},
 "layer": [
  {"data": {"name": "E"},
   "transform": [{"fold": ["e1","e2","e3","e4","e5","e6","e7","e8","e9","e10","e11","e12"], "as": ["curve", "I"]}],
   "mark": {"type": "line", "interpolate": "monotone", "strokeWidth": 2.2},
   "encoding": {
    "x": {"field": "nm", "type": "quantitative", "scale": {"domain": [310, 430], "nice": false}, "axis": {"labelOverlap": false, "values": [310,330,350,370,390,410,430], "title": "λ / nm", "titlePadding": 13}},
    "y": {"field": "I", "type": "quantitative", "scale": {"domain": [0, 9], "nice": false, "range": [300, 11]}, "axis": {"labelOverlap": false, "values": [0,1,2,3,4,5,6,7,8,9], "labelExpr": "datum.value == 0 ? '0.0E+00' : (datum.value >= 10 ? '1.0E+08' : format(datum.value, '.1f') + 'E+07')", "title": "Fluorescence intensity / a.u.", "titlePadding": 11}},
    "color": {"field": "curve", "type": "nominal", "scale": {"domain": ["e1","e2","e3","e4","e5","e6","e7","e8","e9","e10","e11","e12"], "range": ["#4472C4","#7F6000","#BF9000","#FFC000","#6F9BE0","#FFCC33","#2F5597","#BF9000","#8FAADC","#FFD966","#1F3864","#7F6000"]}, "legend": null}
   }},
  {"data": {"name": "arr"}, "transform": [{"filter": "datum.p == 'E'"}], "mark": {"type": "rule", "strokeDash": [9, 5], "strokeWidth": 3, "color": "#000000"}, "encoding": {"x": {"field": "nm", "type": "quantitative", "axis": null}, "y": {"field": "I", "type": "quantitative", "axis": null}, "y2": {"field": "I2"}}},
  {"data": {"name": "arr"}, "transform": [{"filter": "datum.p == 'E'"}], "mark": {"type": "point", "shape": "triangle-down", "filled": true, "color": "#000000", "size": 90, "opacity": 1}, "encoding": {"x": {"field": "nm", "type": "quantitative", "axis": null}, "y": {"field": "Ih", "type": "quantitative", "axis": null}}},
  {"data": {"name": "ann"}, "transform": [{"filter": "datum.p == 'E' && datum.k == 'lab'"}], "mark": {"type": "text", "align": "left", "baseline": "middle", "font": "Open Sans", "fontSize": 17, "color": "#3b3b3b"}, "encoding": {"x": {"field": "nm", "type": "quantitative", "axis": null}, "y": {"field": "I", "type": "quantitative", "axis": null}, "text": {"field": "t"}}},
  {"data": {"name": "ann"}, "transform": [{"filter": "datum.p == 'E' && datum.k == 'ttl'"}], "mark": {"type": "text", "align": "center", "baseline": "middle", "font": "Open Sans", "fontSize": 19, "fontWeight": "bold", "color": "#111111"}, "encoding": {"x": {"field": "nm", "type": "quantitative", "axis": null}, "y": {"field": "I", "type": "quantitative", "axis": null}, "text": {"field": "t"}}},
  {"data": {"name": "ann"}, "transform": [{"filter": "datum.p == 'E' && datum.k == 'let'"}], "mark": {"type": "text", "align": "center", "baseline": "middle", "font": "Liberation Sans", "fontSize": 26, "fontWeight": "bold", "color": "#000000"}, "encoding": {"x": {"field": "nm", "type": "quantitative", "axis": null}, "y": {"field": "I", "type": "quantitative", "axis": null}, "text": {"field": "t"}}}
 ]
},
{
 "width": 401, "height": 304,
 "resolve": {"axis": {"x": "independent", "y": "independent"}},
 "layer": [
  {"data": {"name": "F"},
   "transform": [{"fold": ["f1","f2","f3","f4","f5","f6","f7","f8","f9","f10","f11","f12"], "as": ["curve", "I"]}],
   "mark": {"type": "line", "interpolate": "monotone", "strokeWidth": 2.2},
   "encoding": {
    "x": {"field": "nm", "type": "quantitative", "scale": {"domain": [310, 430], "nice": false, "range": [9, 401]}, "axis": {"labelOverlap": false, "values": [310,330,350,370,390,410,430], "title": "λ / nm", "titlePadding": 3}},
    "y": {"field": "I", "type": "quantitative", "scale": {"domain": [0, 10], "nice": false}, "axis": {"labelOverlap": false, "offset": -9, "values": [0,1,2,3,4,5,6,7,8,9,10], "labelExpr": "datum.value == 0 ? '0.0E+00' : (datum.value >= 10 ? '1.0E+08' : format(datum.value, '.1f') + 'E+07')", "title": "Fluorescence intensity / a.u.", "titlePadding": 10}},
    "color": {"field": "curve", "type": "nominal", "scale": {"domain": ["f1","f2","f3","f4","f5","f6","f7","f8","f9","f10","f11","f12"], "range": ["#4472C4","#7F6000","#FFC000","#BF9000","#6F9BE0","#FFCC33","#2F5597","#BF9000","#8FAADC","#FFD966","#1F3864","#7F6000"]}, "legend": null}
   }},
  {"data": {"name": "arr"}, "transform": [{"filter": "datum.p == 'F'"}], "mark": {"type": "rule", "strokeDash": [9, 5], "strokeWidth": 3, "color": "#000000"}, "encoding": {"x": {"field": "nm", "type": "quantitative", "axis": null}, "y": {"field": "I", "type": "quantitative", "axis": null}, "y2": {"field": "I2"}}},
  {"data": {"name": "arr"}, "transform": [{"filter": "datum.p == 'F'"}], "mark": {"type": "point", "shape": "triangle-down", "filled": true, "color": "#000000", "size": 90, "opacity": 1}, "encoding": {"x": {"field": "nm", "type": "quantitative", "axis": null}, "y": {"field": "Ih", "type": "quantitative", "axis": null}}},
  {"data": {"name": "ann"}, "transform": [{"filter": "datum.p == 'F' && datum.k == 'lab'"}], "mark": {"type": "text", "align": "left", "baseline": "middle", "font": "Open Sans", "fontSize": 17, "color": "#3b3b3b"}, "encoding": {"x": {"field": "nm", "type": "quantitative", "axis": null}, "y": {"field": "I", "type": "quantitative", "axis": null}, "text": {"field": "t"}}},
  {"data": {"name": "ann"}, "transform": [{"filter": "datum.p == 'F' && datum.k == 'ttl'"}], "mark": {"type": "text", "align": "center", "baseline": "middle", "font": "Open Sans", "fontSize": 19, "fontWeight": "bold", "color": "#111111"}, "encoding": {"x": {"field": "nm", "type": "quantitative", "axis": null}, "y": {"field": "I", "type": "quantitative", "axis": null}, "text": {"field": "t"}}},
  {"data": {"name": "ann"}, "transform": [{"filter": "datum.p == 'F' && datum.k == 'let'"}], "mark": {"type": "text", "align": "center", "baseline": "middle", "font": "Liberation Sans", "fontSize": 26, "fontWeight": "bold", "color": "#000000"}, "encoding": {"x": {"field": "nm", "type": "quantitative", "axis": null}, "y": {"field": "I", "type": "quantitative", "axis": null}, "text": {"field": "t"}}}
 ]
}
]
}
